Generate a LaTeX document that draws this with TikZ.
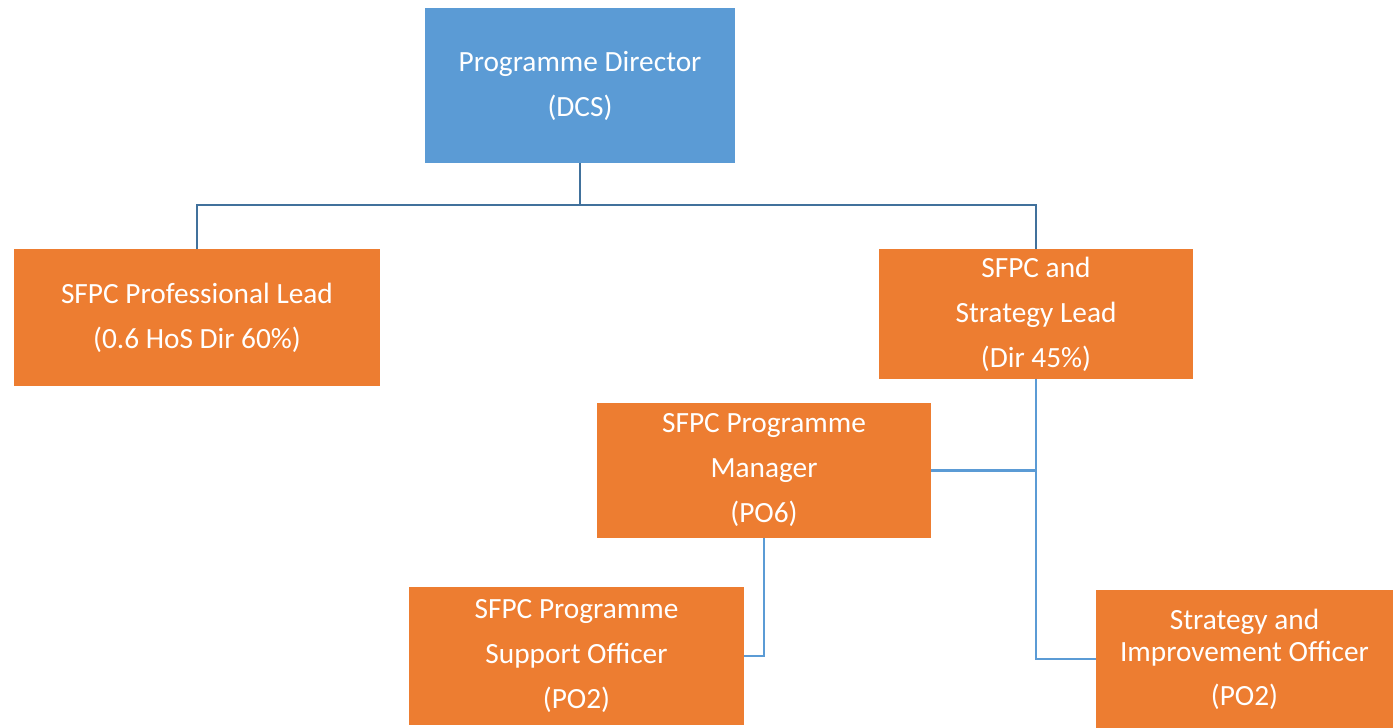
\documentclass[tikz,border=0pt]{standalone}
\usepackage{fontspec}
\setmainfont{Carlito}
\usetikzlibrary{positioning}

\definecolor{boxblue}{HTML}{5B9BD5}
\definecolor{boxorange}{HTML}{ED7D31}
\definecolor{linedark}{HTML}{41719C}
\definecolor{linelight}{HTML}{5B9BD5}

\begin{document}
\begin{tikzpicture}[x=0.75pt,y=-0.75pt,
                    role/.style={rectangle,
                                 inner sep=0mm,outer sep=0,
                                 fill=boxorange,
                                 text=white,
                                 align=center,
                                 font=\fontsize{22}{33.75}\selectfont
                                },
                    head/.style={role,fill=boxblue},
                    reportline/.style={
                                 line width=2.2pt,
                                 draw=linelight
                                 }
                   ]
  \useasboundingbox (0,0) rectangle (1393,728);
  \node[head,minimum width=232.5pt,minimum height=116.25pt] (pd) at (580,85.5) {Programme Director\\(DCS)};
  \node[role,minimum width=274.5pt,minimum height=102.75pt] (prof) at (197,317.5) {SFPC Professional Lead\\(0.6 HoS Dir 60\%)};
  \node[role,minimum width=235.5pt,minimum height=97.5pt] (strat) at (1036,314) {SFPC and\\Strategy Lead\\(Dir 45\%)};
  \node[role,minimum width=250.5pt,minimum height=101.25pt] (mgr) at (764,470.5) {SFPC Programme\\Manager\\(PO6)};
  \node[role,minimum width=251.25pt,minimum height=103.5pt] (sup) at (576.5,656) {SFPC Programme\\Support Officer\\(PO2)};
  \node[role,minimum width=222.75pt,minimum height=103.5pt,font=\fontsize{22}{24}\selectfont] (sio) at (1244.5,659) {Strategy and\\Improvement Officer\\[9pt](PO2)};
  \draw [reportline,draw=linedark] (pd.south) -- ++(0,42) coordinate (bus);
  \draw [reportline,draw=linedark] (prof.north) |- (bus) -| (strat.north);
  \draw [reportline] (strat.south) |- (sio.west);
  \draw [reportline] (mgr.east) -| (strat.south);
  \draw [reportline] (mgr.south) |- (sup.east);
\end{tikzpicture}
\end{document}
